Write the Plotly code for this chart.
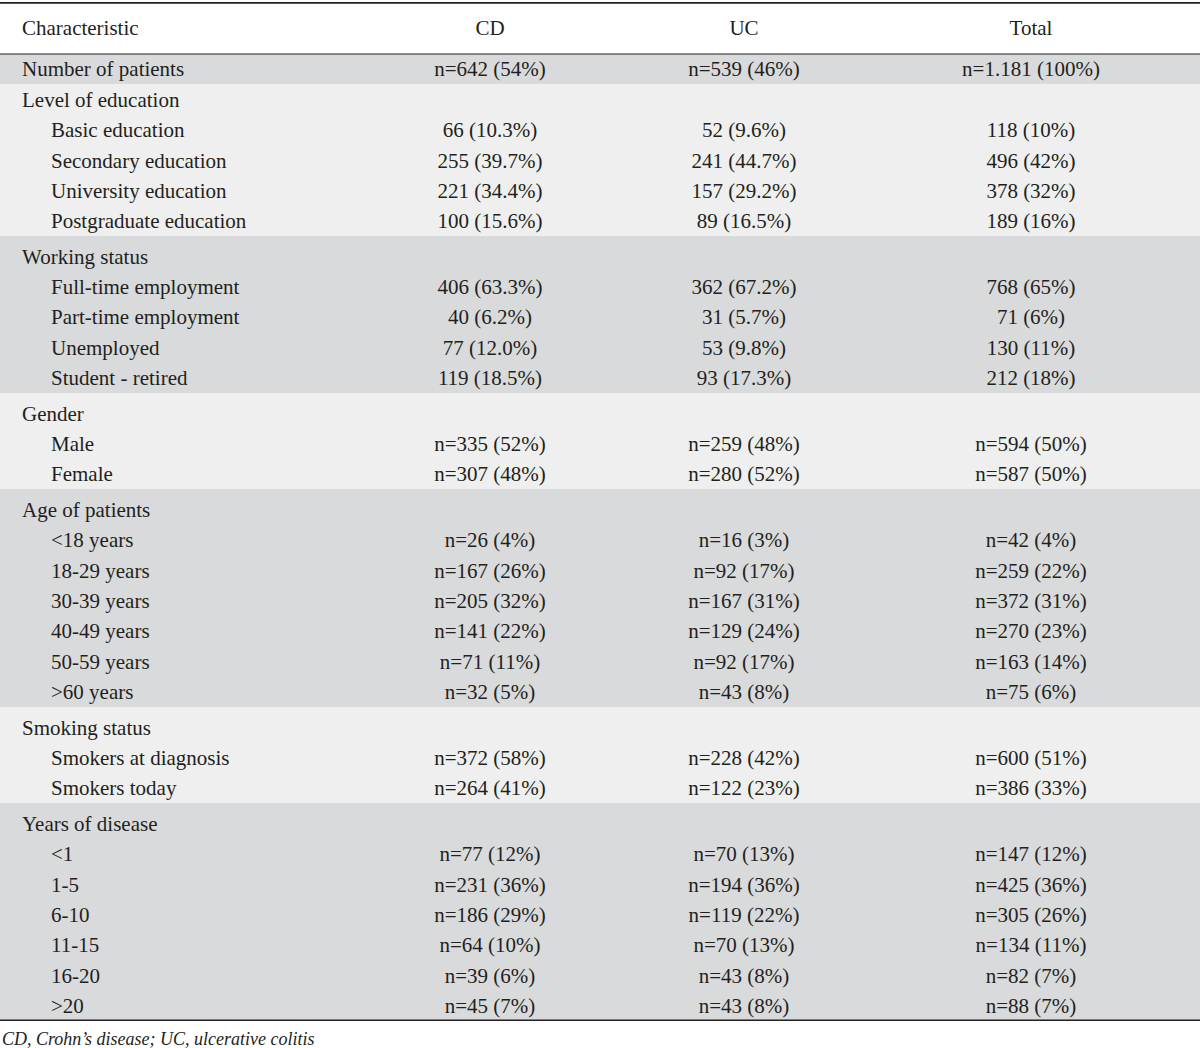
import plotly.graph_objects as go

columns = ["Characteristic", "CD", "UC", "Total"]

groups = [
    ("Number of patients", None),
    ("Level of education", ["Basic education", "Secondary education", "University education", "Postgraduate education"]),
    ("Working status", ["Full-time employment", "Part-time employment", "Unemployed", "Student - retired"]),
    ("Gender", ["Male", "Female"]),
    ("Age of patients", ["<18 years", "18-29 years", "30-39 years", "40-49 years", "50-59 years", ">60 years"]),
    ("Smoking status", ["Smokers at diagnosis", "Smokers today"]),
    ("Years of disease", ["<1", "1-5", "6-10", "11-15", "16-20", ">20"]),
]

cd_values = [
    "n=642 (54%)",
    "", "66 (10.3%)", "255 (39.7%)", "221 (34.4%)", "100 (15.6%)",
    "", "406 (63.3%)", "40 (6.2%)", "77 (12.0%)", "119 (18.5%)",
    "", "n=335 (52%)", "n=307 (48%)",
    "", "n=26 (4%)", "n=167 (26%)", "n=205 (32%)", "n=141 (22%)", "n=71 (11%)", "n=32 (5%)",
    "", "n=372 (58%)", "n=264 (41%)",
    "", "n=77 (12%)", "n=231 (36%)", "n=186 (29%)", "n=64 (10%)", "n=39 (6%)", "n=45 (7%)",
]
uc_values = [
    "n=539 (46%)",
    "", "52 (9.6%)", "241 (44.7%)", "157 (29.2%)", "89 (16.5%)",
    "", "362 (67.2%)", "31 (5.7%)", "53 (9.8%)", "93 (17.3%)",
    "", "n=259 (48%)", "n=280 (52%)",
    "", "n=16 (3%)", "n=92 (17%)", "n=167 (31%)", "n=129 (24%)", "n=92 (17%)", "n=43 (8%)",
    "", "n=228 (42%)", "n=122 (23%)",
    "", "n=70 (13%)", "n=194 (36%)", "n=119 (22%)", "n=70 (13%)", "n=43 (8%)", "n=43 (8%)",
]
total_values = [
    "n=1.181 (100%)",
    "", "118 (10%)", "496 (42%)", "378 (32%)", "189 (16%)",
    "", "768 (65%)", "71 (6%)", "130 (11%)", "212 (18%)",
    "", "n=594 (50%)", "n=587 (50%)",
    "", "n=42 (4%)", "n=259 (22%)", "n=372 (31%)", "n=270 (23%)", "n=163 (14%)", "n=75 (6%)",
    "", "n=600 (51%)", "n=386 (33%)",
    "", "n=147 (12%)", "n=425 (36%)", "n=305 (26%)", "n=134 (11%)", "n=82 (7%)", "n=88 (7%)",
]

footnote = "CD, Crohn\u2019s disease; UC, ulcerative colitis"

# ---- styling / layout constants ----
DARK = "#d9dadb"
LIGHT = "#eeefee"
INK = "#231f20"
FONT = "Liberation Serif"
FS = 21

W, H = 1200, 1048
X_HEAD = 22                 # x of group-heading text
X_SUB = 51                  # x of indented item text
X_COLS = [490, 744, 1031]   # centres of the value columns
GROUP_PAD = 0.17            # extra space (in rows) above each multi-row group
TOP, BOT = 2, 27
HDR_PX = 52
TEXT_DY_PX = 2

# ---- build row structure ----
labels, levels, ypos = [], [], []
band_y, band_w, band_c = [], [], []
cursor = 0.0
for gi, (name, items) in enumerate(groups):
    pad = GROUP_PAD if gi >= 2 else 0.0
    start = cursor
    cursor += pad
    names = [name] + list(items or [])
    for k, nm in enumerate(names):
        labels.append(nm)
        levels.append(0 if k == 0 else 1)
        ypos.append(cursor + 0.5)
        cursor += 1.0
    band_y.append((start + cursor) / 2)
    band_w.append(cursor - start)
    band_c.append(DARK if gi % 2 == 0 else LIGHT)

total_u = cursor
plot_h = H - TOP - BOT
row_px = (plot_h - HDR_PX) / total_u
hdr_u = HDR_PX / row_px
dy = TEXT_DY_PX / row_px
y_top = -hdr_u
y_hdr = -hdr_u / 2

nrows = len(labels)
ytext = [y + dy for y in ypos]

fig = go.Figure()

# background bands (one per group)
fig.add_trace(go.Bar(
    y=band_y, x=[W] * len(band_y), base=0, orientation="h", width=band_w,
    marker=dict(color=band_c, line=dict(width=0)),
    hoverinfo="skip", showlegend=False,
))

textfont = dict(family=FONT, size=FS, color=INK)

# row labels
for lvl, xpos in ((0, X_HEAD), (1, X_SUB)):
    idx = [r for r in range(nrows) if levels[r] == lvl]
    fig.add_trace(go.Scatter(
        x=[xpos] * len(idx), y=[ytext[r] for r in idx], mode="text",
        text=[labels[r] for r in idx], textposition="middle right",
        textfont=textfont, hoverinfo="skip", showlegend=False,
    ))

# value columns
for xpos, vals in zip(X_COLS, [cd_values, uc_values, total_values]):
    fig.add_trace(go.Scatter(
        x=[xpos] * nrows, y=ytext, mode="text",
        text=vals, textposition="middle center",
        textfont=textfont, hoverinfo="skip", showlegend=False,
    ))

# header
fig.add_trace(go.Scatter(
    x=[X_HEAD], y=[y_hdr + dy], mode="text", text=[columns[0]],
    textposition="middle right", textfont=textfont,
    hoverinfo="skip", showlegend=False,
))
fig.add_trace(go.Scatter(
    x=X_COLS, y=[y_hdr + dy] * 3, mode="text", text=columns[1:],
    textposition="middle center", textfont=textfont,
    hoverinfo="skip", showlegend=False,
))

fig.update_layout(
    width=W, height=H,
    margin=dict(l=0, r=0, t=TOP, b=BOT),
    paper_bgcolor="white", plot_bgcolor="white",
    bargap=0,
    xaxis=dict(range=[0, W], visible=False, fixedrange=True),
    yaxis=dict(range=[total_u, y_top], visible=False, fixedrange=True),
    shapes=[
        dict(type="line", xref="paper", yref="y", x0=0, x1=1, y0=y_top, y1=y_top,
             line=dict(color=INK, width=3.5)),
        dict(type="line", xref="paper", yref="y", x0=0, x1=1, y0=0, y1=0,
             line=dict(color=INK, width=1.2)),
        dict(type="line", xref="paper", yref="y", x0=0, x1=1, y0=total_u, y1=total_u,
             line=dict(color=INK, width=3)),
    ],
    annotations=[
        dict(text="<i>" + footnote + "</i>", xref="paper", yref="paper",
             x=0, y=0, xanchor="left", yanchor="top", yshift=-6, showarrow=False,
             font=dict(family=FONT, size=18, color=INK)),
    ],
)

fig.write_html("out.html", config={"displayModeBar": False},
               post_script="document.body.style.margin='0';")
